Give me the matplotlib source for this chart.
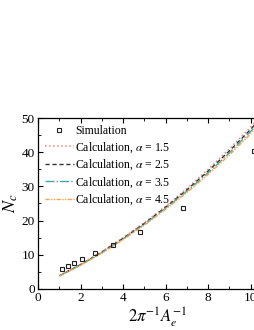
import matplotlib
matplotlib.use("Agg")
import matplotlib.pyplot as plt
from matplotlib.ticker import MultipleLocator

plt.rcParams['font.family'] = ['Liberation Serif', 'DejaVu Serif']
plt.rcParams['mathtext.fontset'] = 'stix'

sim_x = [1.13, 1.38, 1.68, 2.06, 2.68, 3.52, 4.79, 6.82, 10.15]
sim_y = [5.8, 6.6, 7.5, 8.7, 10.4, 12.8, 16.7, 23.8, 40.5]

calc_x = [1.0, 2.0, 3.0, 4.0, 5.0, 6.0, 7.0, 8.0, 9.0, 10.0, 10.6]
calc_a15 = [3.85, 7.2, 10.9, 15.0, 19.4, 24.2, 29.4, 35.0, 41.0, 47.4, 51.6]
calc_a25 = [3.8, 7.1, 10.75, 14.8, 19.15, 23.9, 29.0, 34.5, 40.4, 46.7, 50.9]
calc_a35 = [3.8, 7.0, 10.6, 14.6, 18.9, 23.6, 28.6, 34.0, 39.8, 46.1, 50.3]
calc_a45 = [3.75, 6.9, 10.45, 14.4, 18.65, 23.3, 28.2, 33.5, 39.2, 45.4, 49.6]

fig = plt.figure(figsize=(2.55, 3.30), dpi=100)
ax = fig.add_axes([0.150, 0.125, 0.933, 0.517])

ax.plot(sim_x, sim_y, linestyle='none', marker='s', markersize=3.5,
        markerfacecolor='none', markeredgecolor='#222222', markeredgewidth=0.8,
        label='Simulation', zorder=5)
ax.plot(calc_x, calc_a15, color='#FF8080', linestyle=':', linewidth=1.1,
        label=r'Calculation, $\alpha$ = 1.5')
ax.plot(calc_x, calc_a25, color='#333333', linestyle=(0, (3, 2)), linewidth=1.0,
        label=r'Calculation, $\alpha$ = 2.5')
ax.plot(calc_x, calc_a35, color='#40A8A8', linestyle='-.', linewidth=1.0,
        label=r'Calculation, $\alpha$ = 3.5')
ax.plot(calc_x, calc_a45, color='#FFA040', linestyle=(0, (3, 1, 1, 1, 1, 1)), linewidth=1.0,
        label=r'Calculation, $\alpha$ = 4.5')

ax.set_xlim(0, 11.2)
ax.set_ylim(0, 50)
ax.xaxis.set_major_locator(MultipleLocator(2))
ax.xaxis.set_minor_locator(MultipleLocator(1))
ax.yaxis.set_major_locator(MultipleLocator(10))
ax.yaxis.set_minor_locator(MultipleLocator(5))
ax.tick_params(which='both', direction='in', top=True, right=True, labelsize=9.5)
ax.tick_params(which='major', length=3.5, width=0.8, pad=2.5)
ax.tick_params(which='minor', length=2, width=0.6)
for s in ax.spines.values():
    s.set_linewidth(0.9)

ax.set_xlabel(r'$2\pi^{-1}A_e^{-1}$', fontsize=12, labelpad=0.5)
ax.set_ylabel(r'$N_c$', fontsize=13, labelpad=1)

ax.legend(loc='upper left', frameon=False, fontsize=8.5, handlelength=2.4,
          handletextpad=0.15, labelspacing=0.25, borderaxespad=0.2,
          bbox_to_anchor=(0.0, 1.0))

fig.savefig('out.png', dpi=100)
